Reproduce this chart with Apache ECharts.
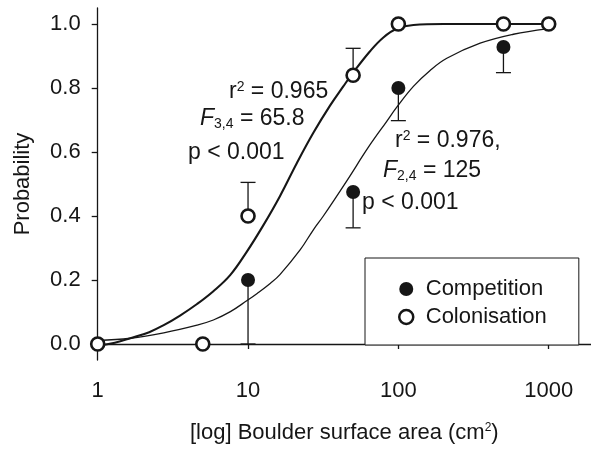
<!DOCTYPE html>
<html>
<head>
<meta charset="utf-8">
<script src="https://cdn.jsdelivr.net/npm/echarts@6/dist/echarts.min.js"></script>
<style>
html,body{margin:0;padding:0;background:#fff;}
#c{width:591px;height:449px;}
</style>
</head>
<body>
<div id="c"></div>
<script>
// ---- data ----
const compX = [10, 50, 100, 500];
const compY = [0.2, 0.475, 0.8, 0.928];
const compErr = [0.0, 0.363, 0.698, 0.848];

const colX = [1, 5, 10, 50, 100, 500, 1000];
const colY = [0, 0, 0.4, 0.84, 1.0, 1.0, 1.0];
const colErrX = [10, 50];
const colErrLo = [0.4, 0.84];
const colErrHi = [0.505, 0.924];

// fitted curves
const colFitX = [1, 1.3, 1.65, 2.2, 2.75, 3.53, 4.58, 5.88, 7.63, 9.8, 12.6, 16.3, 21.1, 27.2, 35.1, 43, 50, 64.8, 79.5, 97.6, 126, 200, 1000];
const colFitY = [-0.006, 0.004, 0.018, 0.037, 0.059, 0.089, 0.125, 0.165, 0.216, 0.288, 0.37, 0.462, 0.565, 0.66, 0.745, 0.805, 0.848, 0.915, 0.958, 0.985, 0.997, 1.0, 1.0];
const compFitX = [1, 1.65, 2.75, 4.58, 5.88, 7.63, 9.8, 11.5, 14.1, 16.3, 22.2, 27.2, 31.7, 45.4, 63.2, 83.7, 97.6, 125.9, 162.6, 210, 350, 582, 971];
const compFitY = [0.011, 0.018, 0.035, 0.059, 0.075, 0.101, 0.135, 0.158, 0.19, 0.217, 0.294, 0.357, 0.4, 0.51, 0.615, 0.696, 0.74, 0.805, 0.855, 0.893, 0.94, 0.968, 0.985];

const yTicks = [0, 0.2, 0.4, 0.6, 0.8, 1.0];
const seriesNames = ['Competition', 'Colonisation'];
const xTitle = '[log] Boulder surface area (cm{sup|2})';
const yTitle = 'Probability';

// ---- chart ----
const FONT = 'Liberation Sans, Arial, Helvetica, sans-serif';
const INK = '#161616';
const zip = (a, b) => a.map((v, i) => [v, b[i]]);

const chart = echarts.init(document.getElementById('c'), null, {renderer: 'canvas'});

function errRender(params, api) {
  const x = api.value(0), a = api.value(1), b = api.value(2);
  const p1 = api.coord([x, a]);
  const p2 = api.coord([x, b]);
  const st = {stroke: INK, lineWidth: 1.3};
  return {
    type: 'group',
    children: [
      {type: 'line', shape: {x1: p1[0], y1: p1[1], x2: p2[0], y2: p2[1]}, style: st},
      {type: 'line', shape: {x1: p2[0] - 7.5, y1: p2[1], x2: p2[0] + 7.5, y2: p2[1]}, style: st}
    ]
  };
}

const AF = 23;
const mainRich = {
  n: {fontFamily: FONT, fontSize: AF, color: INK, lineHeight: 24, verticalAlign: 'top'},
  it: {fontFamily: FONT, fontSize: AF, fontStyle: 'italic', color: INK, lineHeight: 24, verticalAlign: 'top'},
  sup: {fontFamily: FONT, fontSize: 14, color: INK, lineHeight: 14, verticalAlign: 'top'},
  sub: {fontFamily: FONT, fontSize: 14, color: INK, lineHeight: 14, verticalAlign: 'bottom', padding: [14, 0, 0, 0]}
};

function txt(x, y, text) {
  return {
    type: 'text', x: x, y: y, z: 20,
    style: {text: text, rich: mainRich, font: AF + 'px ' + FONT, fill: INK,
      textAlign: 'left', textVerticalAlign: 'middle', align: 'left', verticalAlign: 'middle'}
  };
}

const option = {
  animation: false,
  backgroundColor: '#fff',
  grid: [
    {left: 97.7, right: 42.3, top: 8, bottom: 89},
    {left: 97.7, right: 0, top: 8, bottom: 89}
  ],
  xAxis: [
    {
      type: 'log', logBase: 10, min: 1, max: 1000, gridIndex: 0,
      axisLine: {show: false},
      axisTick: {show: true, inside: false, length: 5, lineStyle: {color: INK, width: 1.3}},
      axisLabel: {margin: 20, color: INK, fontFamily: FONT, fontSize: 22,
        formatter: v => String(Math.round(v))},
      splitLine: {show: false}
    },
    {
      type: 'log', logBase: 10, min: 1, max: 1900, gridIndex: 1,
      axisLine: {show: true, onZero: false, lineStyle: {color: INK, width: 1.3}},
      axisTick: {show: false}, axisLabel: {show: false}, splitLine: {show: false},
      name: xTitle, nameLocation: 'middle', nameGap: 78,
      nameTextStyle: {color: INK, fontFamily: FONT, fontSize: 22,
        rich: {sup: {fontFamily: FONT, fontSize: 12, color: INK, verticalAlign: 'top', lineHeight: 12}}}
    }
  ],
  yAxis: [
    {
      type: 'value', min: -0.05, max: 1.05, gridIndex: 0,
      axisLine: {show: true, onZero: false, lineStyle: {color: INK, width: 1.3}},
      axisTick: {show: true, inside: false, length: 6, customValues: yTicks, lineStyle: {color: INK, width: 1.3}},
      axisLabel: {margin: 17, color: INK, fontFamily: FONT, fontSize: 22, customValues: yTicks,
        formatter: v => Number(v).toFixed(1)},
      splitLine: {show: false},
      name: yTitle, nameLocation: 'middle', nameGap: 64,
      nameTextStyle: {color: INK, fontFamily: FONT, fontSize: 22}
    },
    {type: 'value', min: -0.05, max: 1.05, gridIndex: 1, show: false}
  ],
  legend: {
    orient: 'vertical', left: 365, top: 258,
    padding: [20, 32, 17, 33],
    itemWidth: 29, itemHeight: 14, itemGap: 6,
    borderColor: INK, borderWidth: 1, borderRadius: 0,
    backgroundColor: '#fff',
    textStyle: {color: INK, fontFamily: FONT, fontSize: 22},
    data: [
      {name: seriesNames[0], icon: 'circle', itemStyle: {color: INK, borderWidth: 0}},
      {name: seriesNames[1], icon: 'circle', itemStyle: {color: '#fff', borderColor: INK, borderWidth: 2.5}}
    ]
  },
  series: [
    {
      type: 'line', name: 'colFit', xAxisIndex: 0, yAxisIndex: 0, z: 2,
      data: zip(colFitX, colFitY), showSymbol: false, smooth: 0.4,
      lineStyle: {color: INK, width: 2.1}, clip: false, silent: true
    },
    {
      type: 'line', name: 'compFit', xAxisIndex: 0, yAxisIndex: 0, z: 2,
      data: zip(compFitX, compFitY), showSymbol: false, smooth: 0.4,
      lineStyle: {color: INK, width: 1.3}, clip: false, silent: true
    },
    {
      type: 'custom', name: 'colErr', xAxisIndex: 0, yAxisIndex: 0, z: 3,
      renderItem: errRender, encode: {x: 0, y: [1, 2]},
      data: colErrX.map((x, i) => [x, colErrLo[i], colErrHi[i]]), clip: false
    },
    {
      type: 'custom', name: 'compErr', xAxisIndex: 0, yAxisIndex: 0, z: 3,
      renderItem: errRender, encode: {x: 0, y: [1, 2]},
      data: compX.map((x, i) => [x, compY[i], compErr[i]]), clip: false
    },
    {
      type: 'scatter', name: seriesNames[0], xAxisIndex: 0, yAxisIndex: 0, z: 5,
      data: zip(compX, compY), symbol: 'circle', symbolSize: 14,
      itemStyle: {color: INK, opacity: 1}, clip: false
    },
    {
      type: 'scatter', name: seriesNames[1], xAxisIndex: 0, yAxisIndex: 0, z: 6,
      data: zip(colX, colY), symbol: 'circle', symbolSize: 13,
      itemStyle: {color: '#fff', borderColor: INK, borderWidth: 2.6, opacity: 1}, clip: false
    }
  ],
  graphic: [
    txt(229, 92, '{n|r}{sup|2}{n| = 0.965}'),
    txt(200, 119, '{it|F}{sub|3,4}{n| = 65.8}'),
    txt(188, 153, '{n|p < 0.001}'),
    txt(395, 141, '{n|r}{sup|2}{n| = 0.976,}'),
    txt(383, 171, '{it|F}{sub|2,4}{n| = 125}'),
    txt(362, 203, '{n|p < 0.001}')
  ]
};

chart.setOption(option);
</script>
</body>
</html>
